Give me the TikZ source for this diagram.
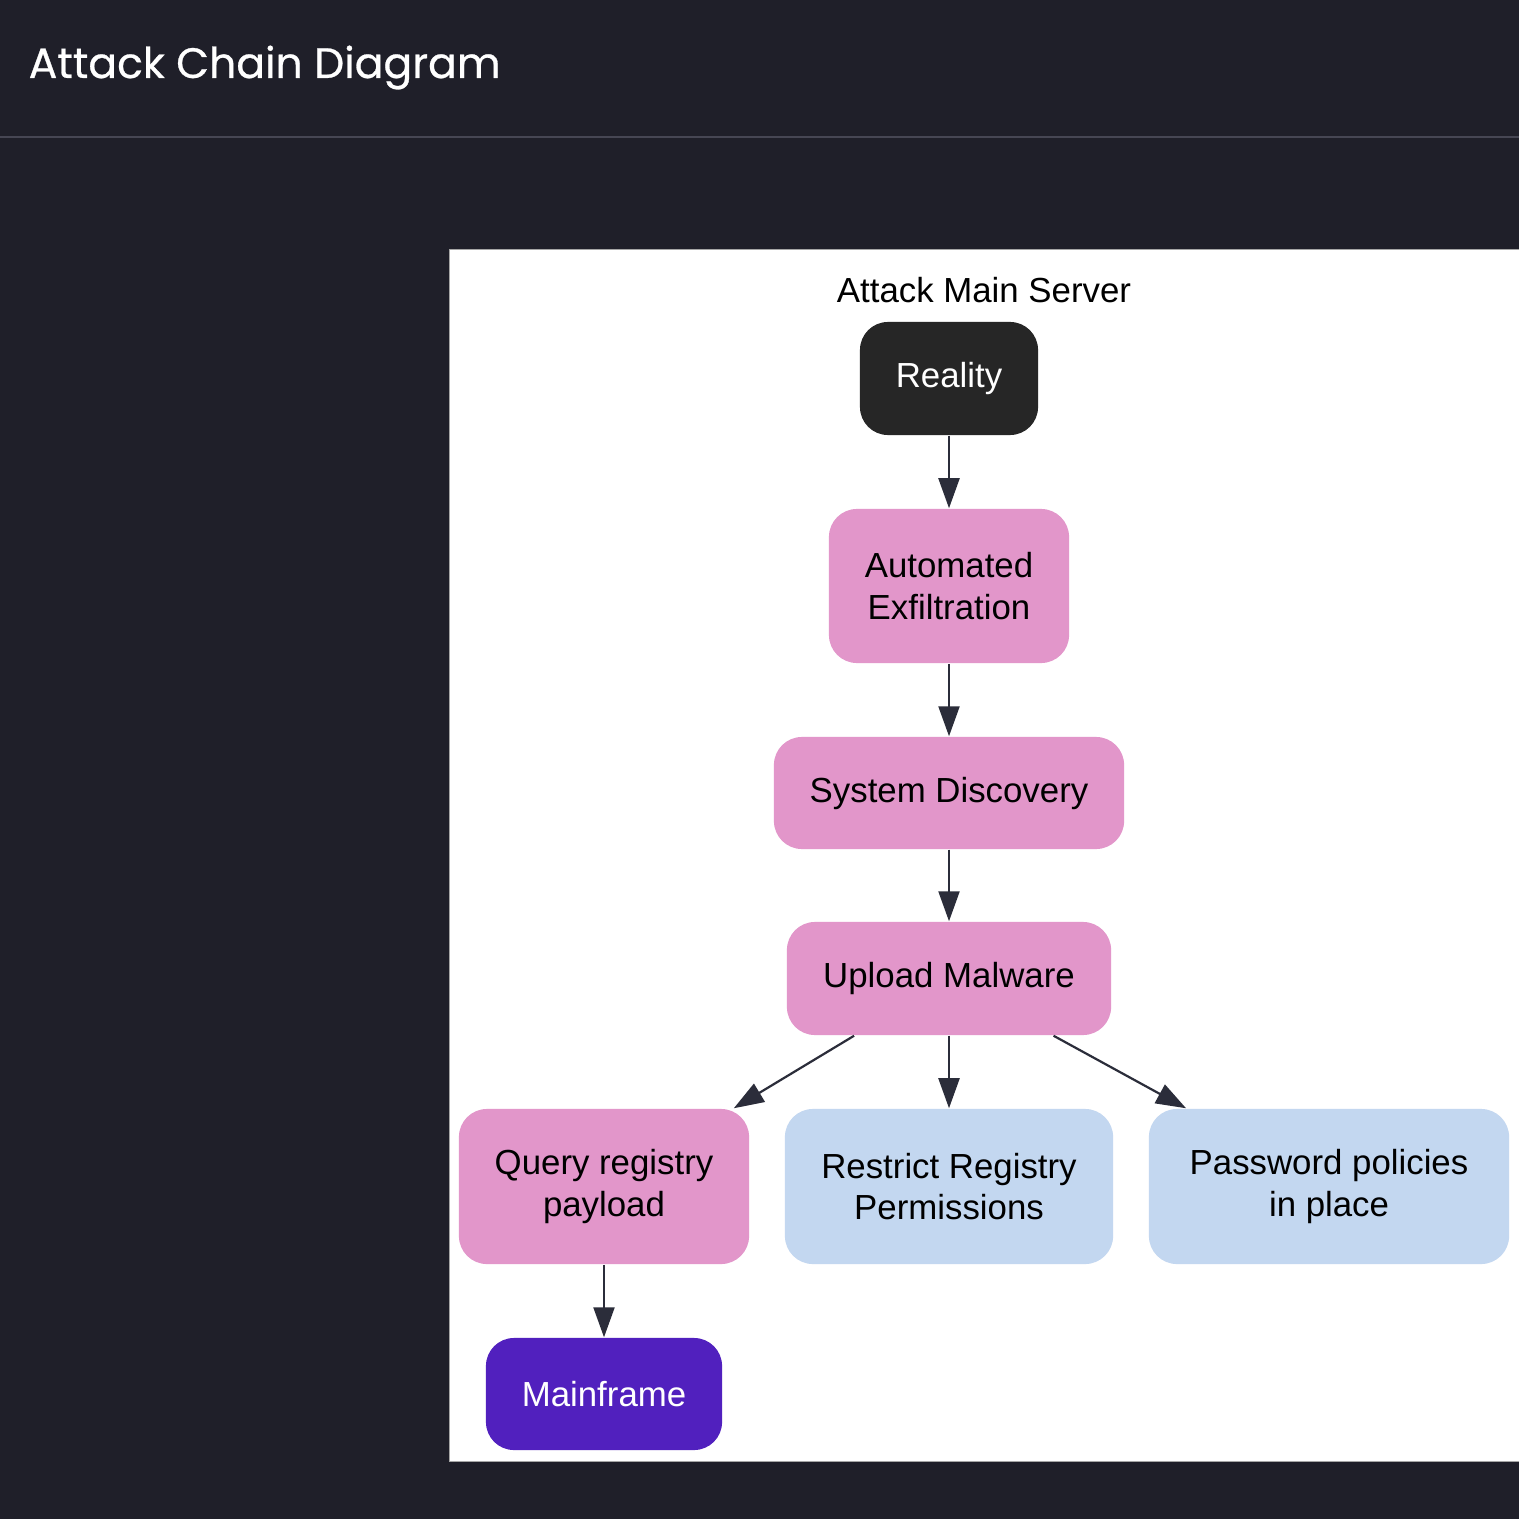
\documentclass[tikz,border=0pt]{standalone}
\usepackage{fontspec}
\setmainfont{Liberation Sans}
\newfontfamily\titlefont{Poppins}[FakeBold=0.6]
\usetikzlibrary{arrows.meta,positioning}
\definecolor{pagebg}{HTML}{1F1F29}
\definecolor{rulegray}{HTML}{464653}
\definecolor{stagepink}{HTML}{E296CA}
\definecolor{defblue}{HTML}{C3D7F0}
\definecolor{startdark}{HTML}{262626}
\definecolor{endpurple}{HTML}{5120BE}
\definecolor{edgeink}{HTML}{2B2D3A}
\begin{document}
\begin{tikzpicture}[x=0.01cm,y=-0.01cm,
	box/.style={rectangle,rounded corners=0.28cm,align=center,inner sep=0pt,
		font=\fontsize{9.9}{11.9}\selectfont,minimum height=1.13cm},
	stagebox/.style={box,fill=stagepink,text=black},
	defbox/.style={box,fill=defblue,text=black},
	edge/.style={draw=edgeink,line width=0.022cm,-{Triangle[length=0.3cm,width=0.21cm]}}]
	\useasboundingbox (0,0) rectangle (1519,1519);
	\fill[pagebg] (0,0) rectangle (1519,1519);
	
	\node[anchor=base west,inner sep=0pt,text=white,font=\titlefont\fontsize{12.1}{15}\selectfont] (title) at (28,78) {Attack Chain Diagram};
	\draw[rulegray,line width=0.02cm] (0,137) -- (1519,137);
	
	\filldraw[fill=white,draw=gray!70,line width=0.01cm] (449,250) rectangle (1530,1461);
	\node[anchor=base,font=\fontsize{9.9}{11.9}\selectfont] (server) at (984,303) {Attack Main Server};
	
	\node[box,fill=startdark,text=white,minimum width=1.78cm] (reality) at (949,378.5) {Reality};
	\node[stagebox,minimum width=2.40cm,minimum height=1.54cm] (exfil) at (949,586) {Automated\\Exfiltration};
	\node[stagebox,minimum width=3.50cm,minimum height=1.12cm] (discovery) at (949,793) {System Discovery};
	\node[stagebox,minimum width=3.24cm] (upload) at (949,978.5) {Upload Malware};
	\node[stagebox,minimum width=2.90cm,minimum height=1.55cm] (query) at (604,1186.5) {Query registry\\payload};
	\node[defbox,minimum width=3.28cm,minimum height=1.55cm] (restrict) at (949,1186.5) {Restrict Registry\\Permissions};
	\node[defbox,minimum width=3.60cm,minimum height=1.55cm] (password) at (1329,1186.5) {Password policies\\in place};
	\node[box,fill=endpurple,text=white,minimum width=2.36cm,minimum height=1.12cm] (mainframe) at (604,1394) {Mainframe};
	
	\draw[edge] (reality) -- (exfil);
	\draw[edge] (exfil) -- (discovery);
	\draw[edge] (discovery) -- (upload);
	\draw[edge] (upload) -- (query);
	\draw[edge] (upload) -- (restrict);
	\draw[edge] (upload) -- (password);
	\draw[edge] (query) -- (mainframe);
\end{tikzpicture}
\end{document}
